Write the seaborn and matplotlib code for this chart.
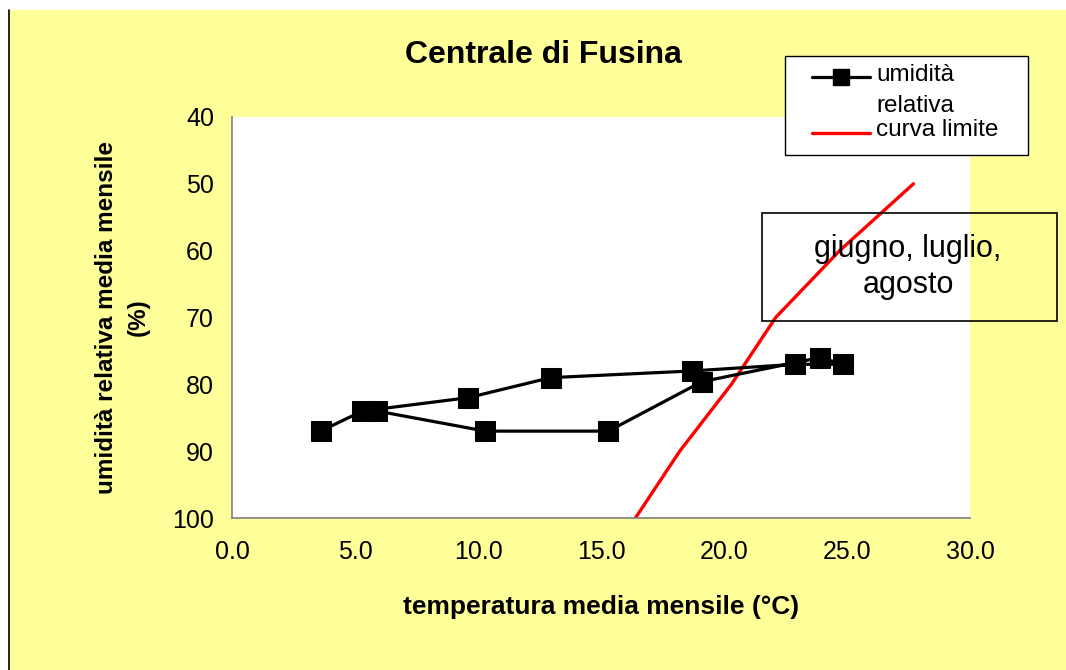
import matplotlib
matplotlib.use("Agg")
import matplotlib.pyplot as plt
import seaborn as sns
import pandas as pd
from matplotlib.lines import Line2D
from matplotlib.patches import Rectangle

# ---- data ----
months = ["gen", "feb", "mar", "apr", "mag", "giu", "lug", "ago", "set", "ott", "nov", "dic"]
temperature = [3.6, 5.3, 9.6, 12.95, 18.7, 22.9, 24.85, 23.9, 19.1, 15.3, 10.3, 5.9]
humidity = [87, 84, 82, 79, 78, 77, 77, 76, 79.6, 87, 87, 84]

limit_temp = [16.4, 18.2, 20.3, 22.1, 24.7, 27.7]
limit_hum = [100, 90, 80, 70, 60, 50]

x_ticks = [0, 5, 10, 15, 20, 25, 30]
y_ticks = [40, 50, 60, 70, 80, 90, 100]

title = "Centrale di Fusina"
x_label = "temperatura media mensile (°C)"
y_label = "umidità relativa media mensile\n(%)"
series_label = "umidità"
series_label2 = "relativa"
limit_label = "curva limite"
note_text = "giugno, luglio,\nagosto"

df = pd.DataFrame({"mese": months, "T": temperature, "UR": humidity})
dl = pd.DataFrame({"T": limit_temp, "UR": limit_hum})

sns.set_style("white")
plt.rcParams["font.family"] = ["Liberation Sans", "DejaVu Sans"]
plt.rcParams["text.color"] = "black"
plt.rcParams["axes.labelcolor"] = "black"

W, H = 1066, 670
fig = plt.figure(figsize=(W / 100, H / 100), dpi=100)
fig.patch.set_facecolor("#FFFF99")

def fx(px):
    return px / W

def fy(py):
    return 1 - py / H

# white strips / border of the original slide
fig.patches.append(Rectangle((0, fy(10)), 1, 10 / H, transform=fig.transFigure,
                             facecolor="white", edgecolor="none", zorder=0))
fig.patches.append(Rectangle((0, 0), fx(8), 1, transform=fig.transFigure,
                             facecolor="white", edgecolor="none", zorder=0))
fig.lines.append(Line2D([fx(8.5), fx(8.5)], [0, fy(10)], transform=fig.transFigure,
                        color="black", lw=1.2))

ax = fig.add_axes([fx(232), fy(518), (970 - 232) / W, (518 - 117) / H])
ax.set_facecolor("white")

sns.lineplot(data=dl, x="T", y="UR", sort=False, ax=ax, color="#FF0000", lw=2.4,
             estimator=None, zorder=2)
sns.lineplot(data=df, x="T", y="UR", sort=False, ax=ax, color="black", lw=2.3,
             marker="s", markersize=15, markeredgecolor="black", estimator=None, zorder=3)

ax.set_xlim(0, 30)
ax.set_ylim(100, 40)
ax.set_xticks(x_ticks)
ax.set_xticklabels([f"{v:.1f}" for v in x_ticks])
ax.set_yticks(y_ticks)
ax.set_yticklabels([str(v) for v in y_ticks])
ax.tick_params(axis="both", direction="out", length=6, width=1, color="#808080",
               labelsize=18, labelcolor="black")
ax.tick_params(axis="y", pad=7)
ax.tick_params(axis="x", pad=10)
for s in ["top", "right"]:
    ax.spines[s].set_visible(False)
for s in ["left", "bottom"]:
    ax.spines[s].set_color("#808080")
    ax.spines[s].set_linewidth(1.2)

ax.set_xlabel(x_label, fontsize=19, fontweight="bold", labelpad=22)
ax.set_ylabel(y_label, fontsize=17.5, fontweight="bold", labelpad=16, linespacing=1.5)

fig.text(fx(543), fy(55), title, ha="center", va="center", fontsize=23,
         fontweight="bold")

# legend (drawn as a boxed key)
fig.patches.append(Rectangle((fx(785), fy(155)), (1028 - 785) / W, (155 - 56) / H,
                             transform=fig.transFigure, facecolor="white",
                             edgecolor="black", lw=1.0, zorder=5))
fig.lines.append(Line2D([fx(812), fx(870)], [fy(77), fy(77)], transform=fig.transFigure,
                        color="black", lw=2.3, zorder=6))
fig.lines.append(Line2D([fx(841)], [fy(77)], transform=fig.transFigure,
                        color="black", lw=0, marker="s", markersize=12, zorder=6))
fig.lines.append(Line2D([fx(812), fx(870)], [fy(133), fy(133)], transform=fig.transFigure,
                        color="#FF0000", lw=2.4, zorder=6))
fig.text(fx(876), fy(75), series_label, ha="left", va="center", fontsize=17.5, zorder=7)
fig.text(fx(876), fy(106), series_label2, ha="left", va="center", fontsize=17.5, zorder=7)
fig.text(fx(876), fy(130), limit_label, ha="left", va="center", fontsize=17.5, zorder=7)

# annotation box
fig.patches.append(Rectangle((fx(762), fy(321)), (1057 - 762) / W, (321 - 213) / H,
                             transform=fig.transFigure, facecolor="none",
                             edgecolor="black", lw=1.2, zorder=5))
fig.text(fx(908), fy(267), note_text, ha="center", va="center", fontsize=22,
         linespacing=1.25, zorder=6)

fig.savefig("out.png", dpi=100, facecolor=fig.get_facecolor())
